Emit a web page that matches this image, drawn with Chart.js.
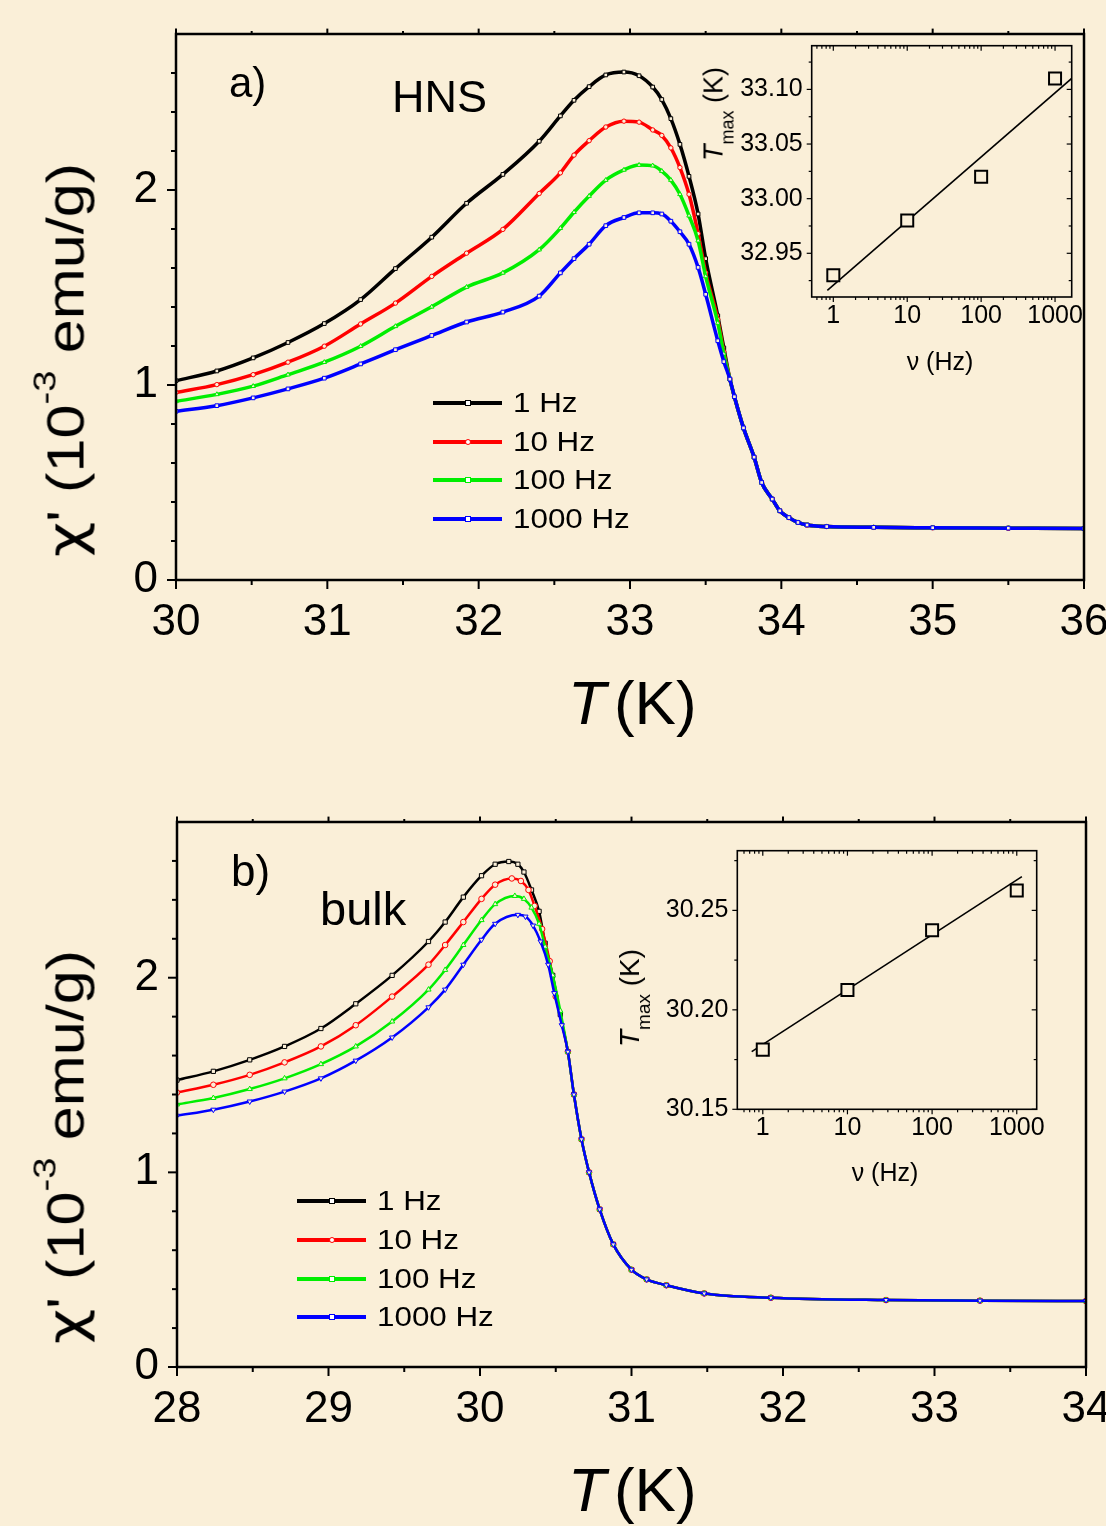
<!DOCTYPE html>
<html>
<head>
<meta charset="utf-8">
<script src="https://cdn.jsdelivr.net/npm/chart.js@4.4.1/dist/chart.umd.min.js"></script>
<style>
  body { margin: 0; width: 1106px; height: 1526px; overflow: hidden; position: relative;
         background: #faefd8; font-family: "Liberation Sans", Arial, sans-serif; color: #000; }
  canvas { position: absolute; }
  .txt { position: absolute; line-height: 1; white-space: nowrap; }
  .ctr { transform: translate(-50%, -50%); }
  .ytitle { transform: translate(-50%, -50%) rotate(-90deg) scaleX(1.2); }
  .ytitle-in { transform: translate(-50%, -50%) rotate(-90deg); }
  .chi { font-family: "DejaVu Sans", sans-serif; }
  .leg { transform: scaleX(1.12); transform-origin: left center; }
</style>
</head>
<body>
<canvas id="mainA" width="1106" height="760" style="left:0;top:0"></canvas>
<canvas id="insetA" width="416" height="360" style="left:690px;top:30px"></canvas>
<canvas id="mainB" width="1106" height="766" style="left:0;top:760px"></canvas>
<canvas id="insetB" width="480" height="360" style="left:600px;top:840px"></canvas>

<div class="txt" style="left:229px;top:62px;font-size:42px">a)</div>
<div class="txt" style="left:392px;top:74px;font-size:45px">HNS</div>
<div class="txt" style="left:231px;top:849px;font-size:44px">b)</div>
<div class="txt" style="left:320px;top:885px;font-size:47px">bulk</div>

<div class="txt ytitle" style="left:66px;top:360px;font-size:51px"><span class="chi">&chi;</span>' (10<span style="position:relative;top:-28px;font-size:32px">-3</span> emu/g)</div>
<div class="txt ytitle" style="left:66px;top:1147px;font-size:51px"><span class="chi">&chi;</span>' (10<span style="position:relative;top:-28px;font-size:32px">-3</span> emu/g)</div>

<div class="txt" style="left:568px;top:672px;font-size:62px"><i>T</i><span style="margin-left:8px">(K)</span></div>
<div class="txt" style="left:568px;top:1459px;font-size:62px"><i>T</i><span style="margin-left:8px">(K)</span></div>

<div class="txt ytitle-in" style="left:714px;top:114px;font-size:27px"><i>T</i><span style="position:relative;top:11px;font-size:18px">max</span> (K)</div>
<div class="txt ytitle-in" style="left:630px;top:998px;font-size:28px"><i>T</i><span style="position:relative;top:11px;font-size:19px">max</span> (K)</div>
<div class="txt ctr" style="left:940px;top:361px;font-size:25px">&nu; (Hz)</div>
<div class="txt ctr" style="left:885px;top:1172px;font-size:25px">&nu; (Hz)</div>

<script>
// ---- panel a) HNS : chi' vs T ----
var tempA = [30.0, 30.27, 30.51, 30.74, 30.98, 31.22, 31.45, 31.69, 31.92, 32.16, 32.40, 32.54, 32.63,
             32.73, 32.84, 32.96, 33.06, 33.15, 33.21, 33.27, 33.33, 33.39, 33.45, 33.50, 33.58, 33.62];
var chiA_1 = [1.022, 1.072, 1.139, 1.218, 1.315, 1.438, 1.597, 1.758, 1.932, 2.080, 2.250, 2.380, 2.460,
              2.530, 2.590, 2.605, 2.586, 2.528, 2.464, 2.366, 2.234, 2.070, 1.877, 1.648, 1.355, 1.19];
var chiA_10 = [0.962, 1.002, 1.053, 1.117, 1.199, 1.313, 1.420, 1.557, 1.676, 1.798, 1.982, 2.088, 2.179,
               2.253, 2.323, 2.353, 2.348, 2.308, 2.280, 2.216, 2.115, 1.978, 1.776, 1.575, 1.337, 1.17];
var chiA_100 = [0.916, 0.952, 0.994, 1.053, 1.117, 1.199, 1.301, 1.401, 1.502, 1.575, 1.694, 1.804, 1.886,
                1.969, 2.051, 2.103, 2.128, 2.125, 2.097, 2.051, 1.978, 1.868, 1.740, 1.557, 1.318, 1.16];
var chiA_1000 = [0.865, 0.894, 0.934, 0.980, 1.035, 1.108, 1.181, 1.254, 1.323, 1.374, 1.456, 1.575, 1.648,
                 1.722, 1.817, 1.859, 1.883, 1.883, 1.877, 1.840, 1.786, 1.722, 1.603, 1.465, 1.227, 1.12];
// all four frequencies coincide above the transition
var tailTA = [33.66, 33.69, 33.75, 33.82, 33.87, 33.94, 33.99, 34.05, 34.11, 34.17, 34.30, 34.61, 35.0, 35.5, 36.0];
var tailChiA = [1.03, 0.94, 0.78, 0.63, 0.50, 0.415, 0.355, 0.32, 0.295, 0.282, 0.274, 0.270, 0.268, 0.266, 0.264];

// ---- panel b) bulk ----
var bulkT_1 = [28.0, 28.24, 28.48, 28.71, 28.95, 29.18, 29.42, 29.66, 29.77, 29.89, 30.01, 30.10, 30.19, 30.25, 30.29, 30.34, 30.39, 30.43, 30.48, 30.53];
var bulkChi_1 = [1.474, 1.519, 1.578, 1.647, 1.739, 1.866, 2.012, 2.186, 2.286, 2.414, 2.524, 2.583, 2.597, 2.583, 2.543, 2.451, 2.341, 2.177, 2.012, 1.811];
var bulkT_10 = [28.0, 28.24, 28.48, 28.71, 28.95, 29.18, 29.42, 29.66, 29.77, 29.89, 30.01, 30.10, 30.21, 30.27, 30.32, 30.36, 30.41, 30.46, 30.50];
var bulkChi_10 = [1.410, 1.450, 1.501, 1.565, 1.647, 1.756, 1.903, 2.067, 2.168, 2.286, 2.405, 2.478, 2.510, 2.497, 2.451, 2.369, 2.250, 2.085, 1.903];
var bulkT_100 = [28.0, 28.24, 28.48, 28.71, 28.95, 29.18, 29.42, 29.66, 29.77, 29.89, 30.01, 30.10, 30.23, 30.29, 30.34, 30.39, 30.43, 30.48, 30.53];
var bulkChi_100 = [1.349, 1.382, 1.428, 1.483, 1.556, 1.647, 1.775, 1.939, 2.040, 2.168, 2.296, 2.378, 2.420, 2.405, 2.360, 2.277, 2.159, 2.012, 1.830];
var bulkT_1000 = [28.0, 28.24, 28.48, 28.71, 28.95, 29.18, 29.42, 29.66, 29.77, 29.89, 30.01, 30.10, 30.25, 30.30, 30.35, 30.40, 30.45, 30.49, 30.54];
var bulkChi_1000 = [1.291, 1.322, 1.364, 1.415, 1.483, 1.574, 1.693, 1.848, 1.939, 2.067, 2.195, 2.277, 2.323, 2.314, 2.268, 2.186, 2.067, 1.921, 1.756];
var tailTB = [30.58, 30.62, 30.67, 30.72, 30.79, 30.88, 31.0, 31.1, 31.23, 31.48, 31.92, 32.68, 33.3, 34.0];
var tailChiB = [1.62, 1.40, 1.17, 1.00, 0.81, 0.63, 0.50, 0.45, 0.42, 0.378, 0.356, 0.344, 0.341, 0.339];

// ---- insets: T_max vs frequency ----
var freq = [1, 10, 100, 1000];
var tmaxA = [32.93, 32.98, 33.02, 33.11];
var tmaxB = [30.18, 30.21, 30.24, 30.26];
var fitNuA = [0.83, 1680], fitTA = [32.916, 33.110];   // straight fit line, ends
var fitNuB = [0.74, 1150], fitTB = [30.179, 30.267];

// ---- tick labels ----
var xTicksA = [30, 31, 32, 33, 34, 35, 36];
var xTicksB = [28, 29, 30, 31, 32, 33, 34];
var yTicksMain = [0, 1, 2];
var yTicksInA = [32.95, 33.00, 33.05, 33.10];
var yTicksInB = [30.15, 30.20, 30.25];

var seriesNames = ["1 Hz", "10 Hz", "100 Hz", "1000 Hz"];
var seriesColors = ["#000000", "#ff0000", "#00ee00", "#0000ff"];

var BG = "#faefd8";
Chart.defaults.font.family = '"Liberation Sans", Arial, sans-serif';
Chart.defaults.color = "#000";

// box + inner/outer ticks drawn through the scales
var frame = {
  id: "frame",
  afterDatasetsDraw: function (chart, args, o) {
    var ctx = chart.ctx, a = chart.chartArea, sx = chart.scales.x, sy = chart.scales.y;
    ctx.save();
    ctx.strokeStyle = "#000";
    ctx.lineWidth = o.tickWidth;
    function seg(x0, y0, x1, y1) { ctx.beginPath(); ctx.moveTo(x0, y0); ctx.lineTo(x1, y1); ctx.stroke(); }
    [[o.xMajor, o.major], [o.xMinor, o.minor]].forEach(function (p) {
      p[0].forEach(function (v) {
        var px = sx.getPixelForValue(v);
        seg(px, a.bottom, px, a.bottom + p[1]);
        if (o.top) seg(px, a.top, px, a.top + o.top * p[1]);
      });
    });
    [[o.yMajor, o.major], [o.yMinor, o.minor]].forEach(function (p) {
      p[0].forEach(function (v) {
        var py = sy.getPixelForValue(v);
        seg(a.left, py, a.left - p[1], py);
        if (o.right) seg(a.right, py, a.right - o.right * p[1], py);
      });
    });
    ctx.lineWidth = o.border;
    ctx.strokeRect(a.left, a.top, a.right - a.left, a.bottom - a.top);
    ctx.restore();
  }
};

function pts(xs, ys) {
  return xs.map(function (x, i) { return { x: x, y: ys[i] }; });
}

function curve(xs, ys, i, style, rot, width, radius) {
  return {
    data: pts(xs, ys),
    showLine: true,
    borderColor: seriesColors[i],
    borderWidth: width,
    cubicInterpolationMode: "monotone",
    pointStyle: style,
    pointRotation: rot,
    pointRadius: radius,
    pointBorderWidth: 1,
    pointBorderColor: seriesColors[i],
    pointBackgroundColor: BG,
    order: 3 - i
  };
}

function fixedScale(size, axis) {
  return function (scale) {
    if (axis === "x") scale.height = size; else scale.width = size;
    scale.paddingLeft = 0; scale.paddingRight = 0; scale.paddingTop = 0; scale.paddingBottom = 0;
  };
}

function setTicks(list) {
  return function (scale) { scale.ticks = list.map(function (v) { return { value: v }; }); };
}

function mainChart(id, datasets, xmin, xmax, xTicks, box) {
  var xMinor = [];
  for (var k = 0; k < xTicks.length - 1; k++) xMinor.push(xTicks[k] + 0.5);
  return new Chart(document.getElementById(id), {
    type: "scatter",
    data: { datasets: datasets },
    options: {
      responsive: false,
      animation: false,
      events: [],
      layout: { padding: { top: box.top, right: box.right, left: 0, bottom: 0 } },
      scales: {
        x: {
          type: "linear", min: xmin, max: xmax,
          grid: { display: false, drawTicks: false }, border: { display: false },
          afterBuildTicks: setTicks(xTicks),
          afterFit: fixedScale(box.xh, "x"),
          ticks: { font: { size: 44 }, padding: 16, autoSkip: false, maxRotation: 0,
                   callback: function (v) { return String(v); } }
        },
        y: {
          type: "linear", min: 0, max: 2.8,
          grid: { display: false, drawTicks: false }, border: { display: false },
          afterBuildTicks: setTicks(yTicksMain),
          afterFit: fixedScale(box.yw, "y"),
          ticks: { font: { size: 44 }, padding: 18, callback: function (v) { return String(v); } }
        }
      },
      plugins: {
        legend: { display: false },
        tooltip: { enabled: false },
        frame: {
          xMajor: xTicks, xMinor: xMinor,
          yMajor: yTicksMain, yMinor: [0.2, 0.4, 0.6, 0.8, 1.2, 1.4, 1.6, 1.8, 2.2, 2.4, 2.6],
          major: 9, minor: 5, top: -0.6, right: 0, tickWidth: 2, border: 2.5
        }
      }
    },
    plugins: [frame]
  });
}

function insetChart(id, tmax, fitNu, fitT, ymin, ymax, xmin, xmax, yTicks, yMinor, box) {
  var logMinor = [0.6, 0.7, 0.8, 0.9, 2, 3, 4, 5, 6, 7, 8, 9, 20, 30, 40, 50, 60, 70, 80, 90,
                  200, 300, 400, 500, 600, 700, 800, 900];
  return new Chart(document.getElementById(id), {
    type: "scatter",
    data: {
      datasets: [
        { data: pts(freq, tmax), pointStyle: "rect", pointRadius: 8.5, pointBorderWidth: 2,
          pointBorderColor: "#000", pointBackgroundColor: BG, order: 0 },
        { data: pts(fitNu, fitT), showLine: true, borderColor: "#000", borderWidth: 1.6,
          pointRadius: 0, order: 1 }
      ]
    },
    options: {
      responsive: false,
      animation: false,
      events: [],
      layout: { padding: { top: box.top, right: box.right, left: 0, bottom: 0 } },
      scales: {
        x: {
          type: "logarithmic", min: xmin, max: xmax,
          grid: { display: false, drawTicks: false }, border: { display: false },
          afterBuildTicks: setTicks(freq),
          afterFit: fixedScale(box.xh, "x"),
          ticks: { font: { size: 25 }, padding: 4, autoSkip: false, maxRotation: 0,
                   callback: function (v) { return String(v); } }
        },
        y: {
          type: "linear", min: ymin, max: ymax,
          grid: { display: false, drawTicks: false }, border: { display: false },
          afterBuildTicks: setTicks(yTicks),
          afterFit: fixedScale(box.yw, "y"),
          ticks: { font: { size: 25 }, padding: 9, callback: function (v) { return v.toFixed(2); } }
        }
      },
      plugins: {
        legend: { display: false },
        tooltip: { enabled: false },
        frame: {
          xMajor: freq, xMinor: logMinor.filter(function (v) { return v > xmin && v < xmax; }),
          yMajor: yTicks, yMinor: yMinor,
          major: 5, minor: 3, top: 1, right: 1, tickWidth: 1.2, border: 1.6
        }
      }
    },
    plugins: [frame]
  });
}

mainChart("mainA", [
  curve(tempA.concat(tailTA), chiA_1.concat(tailChiA), 0, "rect", 0, 3.5, 2.6),
  curve(tempA.concat(tailTA), chiA_10.concat(tailChiA), 1, "circle", 0, 3.5, 2.2),
  curve(tempA.concat(tailTA), chiA_100.concat(tailChiA), 2, "triangle", 0, 3.5, 2.6),
  curve(tempA.concat(tailTA), chiA_1000.concat(tailChiA), 3, "rect", 0, 3.5, 2.6)
], 30, 36, xTicksA, { top: 34, right: 22, xh: 180, yw: 176 });

mainChart("mainB", [
  curve(bulkT_1.concat(tailTB), bulkChi_1.concat(tailChiB), 0, "rect", 0, 2.5, 3),
  curve(bulkT_10.concat(tailTB), bulkChi_10.concat(tailChiB), 1, "circle", 0, 2.5, 2.8),
  curve(bulkT_100.concat(tailTB), bulkChi_100.concat(tailChiB), 2, "triangle", 0, 2.5, 3),
  curve(bulkT_1000.concat(tailTB), bulkChi_1000.concat(tailChiB), 3, "triangle", 180, 2.5, 3)
], 28, 34, xTicksB, { top: 62, right: 20, xh: 159, yw: 177 });

insetChart("insetA", tmaxA, fitNuA, fitTA, 32.91, 33.14, 0.51, 1680, yTicksInA,
  [32.925, 32.975, 33.025, 33.075, 33.125],
  { top: 15.7, right: 34.3, xh: 93, yw: 121.7 });

insetChart("insetB", tmaxB, fitNuB, fitTB, 30.15, 30.28, 0.5, 1720, yTicksInB,
  [30.175, 30.225, 30.275],
  { top: 10.7, right: 43.3, xh: 90.7, yw: 137.3 });

// legends
function legend(x1, x2, ys, textX) {
  ys.forEach(function (y, i) {
    var line = document.createElement("div");
    line.style.cssText = "position:absolute;left:" + x1 + "px;top:" + (y - 2) + "px;width:" + (x2 - x1) +
      "px;height:4px;background:" + seriesColors[i];
    document.body.appendChild(line);
    var mk = document.createElement("div");
    mk.style.cssText = "position:absolute;left:" + ((x1 + x2) / 2 - 3) + "px;top:" + (y - 3) +
      "px;width:4px;height:4px;border:1px solid " + seriesColors[i] + ";background:#fff;" +
      (i === 1 ? "border-radius:50%;" : "");
    document.body.appendChild(mk);
    var t = document.createElement("div");
    t.className = "txt leg";
    t.style.cssText = "left:" + textX + "px;top:" + (y + 10 - 0.8465 * 28) + "px;font-size:28px";
    t.textContent = seriesNames[i];
    document.body.appendChild(t);
  });
}
legend(433, 502, [403, 441.5, 480, 519], 513);
legend(297, 366, [1201, 1240, 1278.6, 1317], 377);
</script>
</body>
</html>
